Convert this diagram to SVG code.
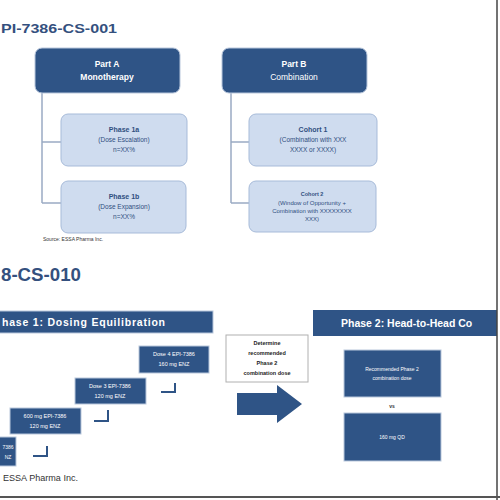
<svg xmlns="http://www.w3.org/2000/svg" width="500" height="500" viewBox="0 0 500 500">
<style>
.t{font-family:"Liberation Sans",Arial,sans-serif}
.ttl{font-weight:bold;fill:#34507e}
.dk{fill:#2f5486;stroke:#b9c7dc;stroke-width:1}
.lt{fill:#cfdcef;stroke:#a7bbd9;stroke-width:1}
.wt{fill:#ffffff;text-anchor:middle}
.bt{fill:#2f4f80;text-anchor:middle}
.ln{stroke:#9aaac3;stroke-width:1.5;fill:none}
.el{stroke:#2f5486;stroke-width:2;fill:none}
</style>
<rect width="500" height="500" fill="#ffffff"/>
<text class="t ttl" x="1" y="33" font-size="13" textLength="116" lengthAdjust="spacingAndGlyphs">PI-7386-CS-001</text>

<g id="connectors">
<path class="ln" d="M42 93 V203 M42 142 H61 M42 203 H61"/>
<path class="ln" d="M231 93 V203 M231 142 H249 M231 203 H249"/>
<path class="el" d="M33 456 H47 V446"/>
<path class="el" d="M94 421 H108 V410"/>
<path class="el" d="M161 392 H175 V383"/>
<path d="M237 393 H277 V385 L302 404 L277 423 V415 H237 Z" fill="#2f5486"/>
</g>

<g id="partA">
<rect class="dk" x="35" y="48" width="145" height="45" rx="7"/>
<text class="t wt" x="107" y="67" font-size="8.5" font-weight="bold">Part A</text>
<text class="t wt" x="107" y="80" font-size="8.5" font-weight="bold">Monotherapy</text>
</g>
<g id="partB">
<rect class="dk" x="222" y="48" width="145" height="45" rx="7"/>
<text class="t wt" x="294" y="67" font-size="8.5" font-weight="bold">Part B</text>
<text class="t wt" x="294" y="80" font-size="8.5">Combination</text>
</g>
<g id="phase1a">
<rect class="lt" x="61" y="114" width="126" height="52" rx="7"/>
<text class="t bt" x="124" y="132" font-size="7" font-weight="bold">Phase 1a</text>
<text class="t bt" x="124" y="142" font-size="6.5">(Dose Escalation)</text>
<text class="t bt" x="124" y="152" font-size="6.5">n=XX%</text>
</g>
<g id="phase1b">
<rect class="lt" x="61" y="181" width="125" height="52" rx="7"/>
<text class="t bt" x="124" y="199" font-size="7" font-weight="bold">Phase 1b</text>
<text class="t bt" x="124" y="209" font-size="6.5">(Dose Expansion)</text>
<text class="t bt" x="124" y="219" font-size="6.5">n=XX%</text>
</g>
<g id="cohort1">
<rect class="lt" x="249" y="114" width="128" height="52" rx="7"/>
<text class="t bt" x="313" y="132" font-size="7" font-weight="bold">Cohort 1</text>
<text class="t bt" x="313" y="142" font-size="6.5">(Combination with XXX</text>
<text class="t bt" x="313" y="152" font-size="6.5">XXXX or XXXX)</text>
</g>
<g id="cohort2">
<rect class="lt" x="249" y="181" width="127" height="51" rx="7"/>
<text class="t bt" x="312" y="196" font-size="5.5" font-weight="bold">Cohort 2</text>
<text class="t bt" x="312" y="205" font-size="6">(Window of Opportunity +</text>
<text class="t bt" x="312" y="213" font-size="6">Combination with XXXXXXXX</text>
<text class="t bt" x="312" y="221" font-size="6">XXX)</text>
</g>
<text class="t" x="43" y="241" font-size="5" fill="#333">Source: ESSA Pharma Inc.</text>

<text class="t ttl" x="1" y="281" font-size="19" textLength="80" lengthAdjust="spacingAndGlyphs">8-CS-010</text>

<g id="phase1bar">
<rect x="-5" y="311" width="218" height="22" fill="#2f5486" stroke="#b9c7dc"/>
<text class="t" x="2" y="326" font-size="10.5" font-weight="bold" fill="#ffffff" textLength="163" lengthAdjust="spacing">hase 1: Dosing Equilibration</text>
</g>
<g id="phase2bar">
<rect x="313" y="310" width="184" height="26" fill="#2f5486"/>
<text class="t" x="341" y="327" font-size="10.5" font-weight="bold" fill="#ffffff">Phase 2: Head-to-Head Co</text>
</g>

<g id="step1">
<rect class="dk" x="-55" y="437" width="71" height="29"/>
<text class="t wt" x="8" y="449" font-size="5">7386</text>
<text class="t wt" x="8" y="459" font-size="5">NZ</text>
</g>
<g id="step2">
<rect class="dk" x="10" y="408" width="71" height="26"/>
<text class="t wt" x="45" y="418" font-size="5.5">600 mg EPI-7386</text>
<text class="t wt" x="45" y="428" font-size="5.5">120 mg ENZ</text>
</g>
<g id="step3">
<rect class="dk" x="75" y="378" width="71" height="26"/>
<text class="t wt" x="110" y="388" font-size="5.5">Dose 3 EPI-7386</text>
<text class="t wt" x="110" y="398" font-size="5.5">120 mg ENZ</text>
</g>
<g id="step4">
<rect class="dk" x="139" y="346" width="70" height="27"/>
<text class="t wt" x="174" y="356" font-size="5.5">Dose 4 EPI-7386</text>
<text class="t wt" x="174" y="366" font-size="5.5">160 mg ENZ</text>
</g>

<g id="determine">
<rect x="226" y="335" width="82" height="47" fill="#ffffff" stroke="#b0b0b0"/>
<text class="t" x="267" y="345" font-size="5.5" font-weight="bold" text-anchor="middle" fill="#222">Determine</text>
<text class="t" x="267" y="355" font-size="5.5" font-weight="bold" text-anchor="middle" fill="#222">recommended</text>
<text class="t" x="267" y="365" font-size="5.5" font-weight="bold" text-anchor="middle" fill="#222">Phase 2</text>
<text class="t" x="267" y="375" font-size="5.5" font-weight="bold" text-anchor="middle" fill="#222">combination dose</text>
</g>

<g id="rp2d">
<rect class="dk" x="344" y="350" width="97" height="47"/>
<text class="t wt" x="392" y="371" font-size="5">Recommended Phase 2</text>
<text class="t wt" x="392" y="380" font-size="5">combination dose</text>
</g>
<text class="t" x="392" y="408" font-size="5" font-weight="bold" text-anchor="middle" fill="#333">vs</text>
<g id="enz">
<rect class="dk" x="344" y="413" width="97" height="48"/>
<text class="t wt" x="392" y="439" font-size="5">160 mg QD</text>
</g>

<text class="t" x="3" y="481" font-size="9" fill="#333" textLength="75" lengthAdjust="spacingAndGlyphs">ESSA Pharma Inc.</text>
<line x1="497" y1="0" x2="497" y2="500" stroke="#444" stroke-width="1.5"/>
<line x1="0" y1="497" x2="500" y2="497" stroke="#555" stroke-width="2"/>
</svg>
